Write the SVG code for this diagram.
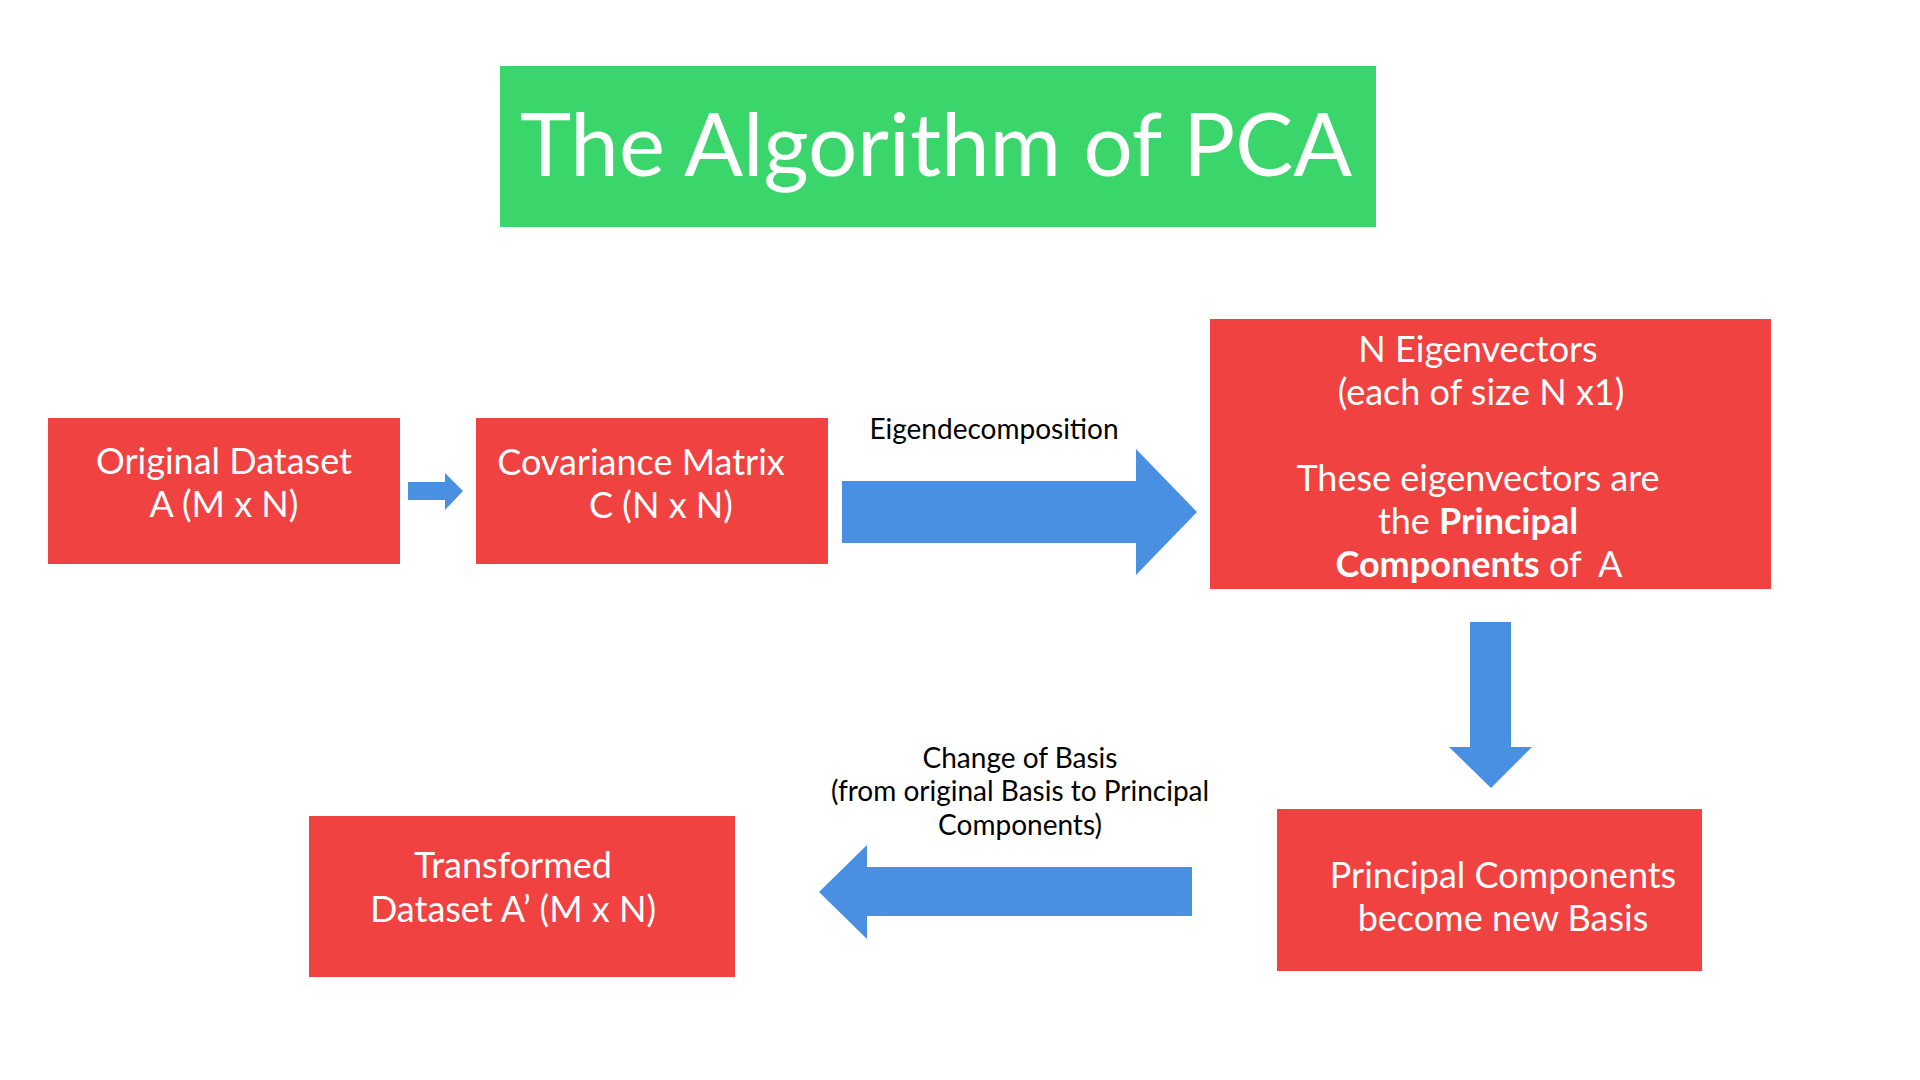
<svg xmlns="http://www.w3.org/2000/svg" width="1920" height="1080" viewBox="0 0 1920 1080">
<style>
.box{fill:#EF4241}
.arr{fill:#4A90E2}
.wt{fill:#FFFFFF;font-family:Lato,"Liberation Sans",sans-serif;font-size:36px;text-anchor:middle}
.lbl{fill:#000000;font-family:Lato,"Liberation Sans",sans-serif;font-size:28px;text-anchor:middle}
.b{font-weight:bold}
</style>
<rect width="1920" height="1080" fill="#FFFFFF"/>
<g id="title">
<rect x="500" y="66" width="876" height="161" fill="#3AD66B"/>
<text x="936" y="176" fill="#FFFFFF" font-family="Lato,'Liberation Sans',sans-serif" font-size="87" text-anchor="middle">The Algorithm of PCA</text>
</g>
<g id="original">
<rect class="box" x="48" y="418" width="352" height="146"/>
<text class="wt" x="224" y="474">Original Dataset</text>
<text class="wt" x="224" y="517">A (M x N)</text>
</g>
<g id="covariance">
<rect class="box" x="476" y="418" width="352" height="146"/>
<text class="wt" x="641" y="475">Covariance Matrix</text>
<text class="wt" x="661" y="518">C (N x N)</text>
</g>
<g id="eigenvectors">
<rect class="box" x="1210" y="319" width="561" height="270"/>
<text class="wt" x="1478" y="362">N Eigenvectors</text>
<text class="wt" x="1481" y="405">(each of size N x1)</text>
<text class="wt" x="1478" y="491">These eigenvectors are</text>
<text class="wt" x="1478" y="534">the <tspan class="b">Principal</tspan></text>
<text class="wt" x="1479" y="577"><tspan class="b">Components</tspan> of&#160; A</text>
</g>
<g id="newbasis">
<rect class="box" x="1277" y="809" width="425" height="162"/>
<text class="wt" x="1503" y="888">Principal Components</text>
<text class="wt" x="1503" y="931">become new Basis</text>
</g>
<g id="transformed">
<rect class="box" x="309" y="816" width="426" height="161"/>
<text class="wt" x="513" y="878">Transformed</text>
<text class="wt" x="513" y="922">Dataset A’ (M x N)</text>
</g>
<g id="connectors">
<polygon class="arr" points="408,482 445,482 445,473 463,491 445,510 445,500 408,500"/>
<polygon class="arr" points="842,481 1136,481 1136,449 1197,512 1136,575 1136,543 842,543"/>
<polygon class="arr" points="1470,622 1511,622 1511,747 1532,747 1491,788 1449,747 1470,747"/>
<polygon class="arr" points="1192,867 867,867 867,845 819,892 867,939 867,916 1192,916"/>
<text class="lbl" x="994" y="439">Eigendecomposition</text>
<text class="lbl" x="1020" y="768">Change of Basis</text>
<text class="lbl" x="1020" y="801">(from original Basis to Principal</text>
<text class="lbl" x="1020" y="835">Components)</text>
</g>
</svg>
